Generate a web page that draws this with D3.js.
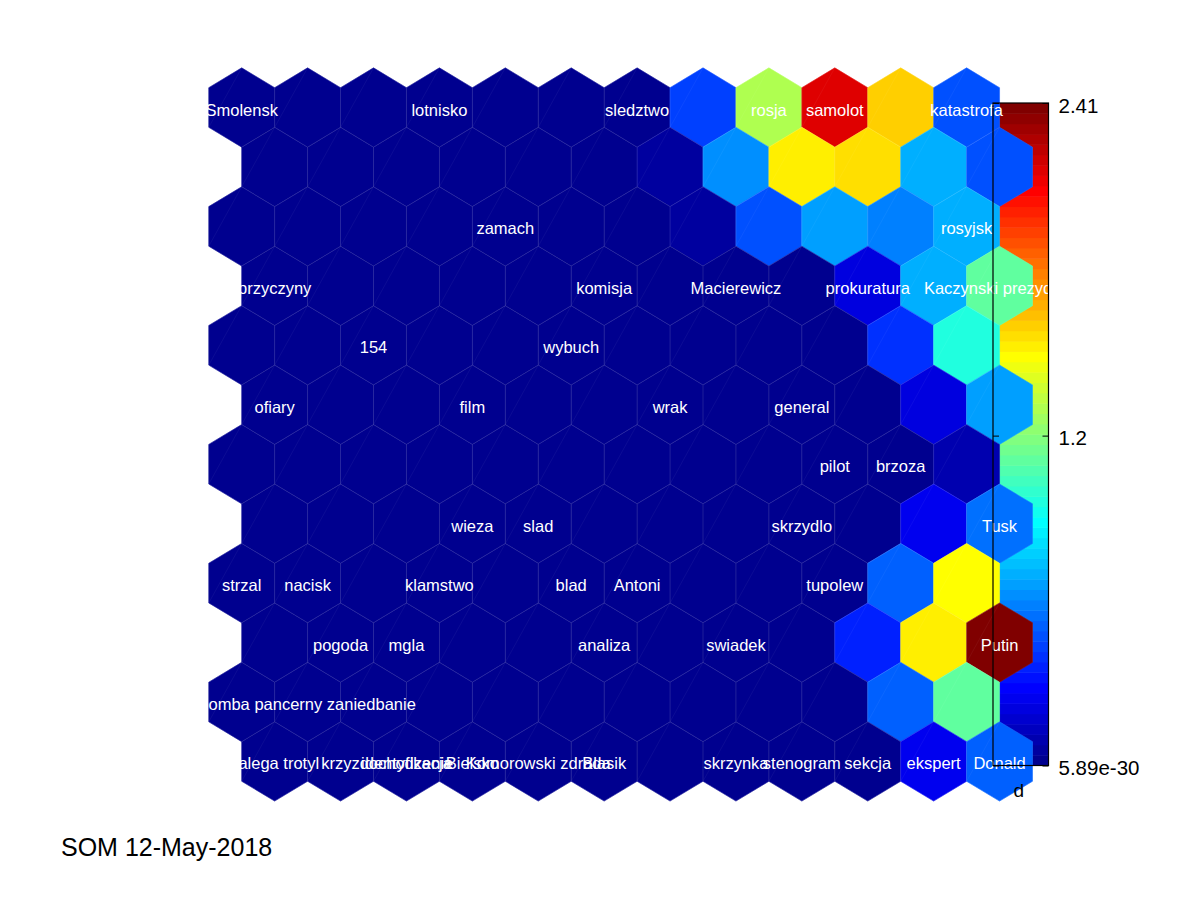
<!DOCTYPE html>
<html>
<head>
<meta charset="utf-8">
<script src="https://cdn.jsdelivr.net/npm/d3@7"></script>
<style>
  html, body { margin: 0; padding: 0; background: #fff; }
  svg { display: block; }
  text { font-family: "Liberation Sans", Arial, Helvetica, sans-serif; }
</style>
</head>
<body>
<svg id="chart" width="1200" height="900"></svg>
<script>
// ---- DATA ----
// Distance values ("d") for the 12 x 12 hexagonal SOM grid (rows top to bottom, columns left to right)
const dValues = [
  [0.01, 0.00, 0.01, 0.00, 0.01, 0.00, 0.01, 0.43, 1.30, 2.17, 1.60, 0.47],
  [0.00, 0.01, 0.00, 0.01, 0.00, 0.01, 0.06, 0.62, 1.52, 1.56, 0.70, 0.47],
  [0.01, 0.00, 0.01, 0.00, 0.01, 0.00, 0.02, 0.07, 0.47, 0.66, 0.58, 0.70],
  [0.00, 0.01, 0.00, 0.01, 0.00, 0.01, 0.00, 0.01, 0.02, 0.21, 0.70, 1.11],
  [0.01, 0.00, 0.01, 0.00, 0.01, 0.00, 0.01, 0.00, 0.01, 0.02, 0.40, 0.96],
  [0.00, 0.01, 0.00, 0.01, 0.00, 0.01, 0.00, 0.01, 0.00, 0.01, 0.21, 0.66],
  [0.01, 0.00, 0.01, 0.00, 0.01, 0.00, 0.01, 0.00, 0.01, 0.00, 0.02, 0.09],
  [0.00, 0.01, 0.00, 0.01, 0.00, 0.01, 0.00, 0.01, 0.00, 0.01, 0.24, 0.55],
  [0.01, 0.00, 0.01, 0.00, 0.01, 0.00, 0.01, 0.00, 0.01, 0.02, 0.51, 1.49],
  [0.00, 0.01, 0.00, 0.01, 0.00, 0.01, 0.00, 0.01, 0.00, 0.36, 1.52, 2.41],
  [0.01, 0.00, 0.01, 0.00, 0.01, 0.00, 0.01, 0.00, 0.01, 0.01, 0.51, 1.11],
  [0.00, 0.01, 0.00, 0.01, 0.00, 0.01, 0.00, 0.01, 0.00, 0.01, 0.24, 0.51]
];

// Unit labels: [row, column, text] (1-based)
const unitLabels = [
  [1, 1, "Smolensk"], [1, 4, "lotnisko"], [1, 7, "sledztwo"], [1, 9, "rosja"],
  [1, 10, "samolot"], [1, 12, "katastrofa"],
  [3, 5, "zamach"], [3, 12, "rosyjsk"],
  [4, 1, "przyczyny"], [4, 6, "komisja"], [4, 8, "Macierewicz"], [4, 10, "prokuratura"],
  [4, 12, "Kaczynski prezydent"],
  [5, 3, "154"], [5, 6, "wybuch"],
  [6, 1, "ofiary"], [6, 4, "film"], [6, 7, "wrak"], [6, 9, "general"],
  [7, 10, "pilot"], [7, 11, "brzoza"],
  [8, 4, "wieza"], [8, 5, "slad"], [8, 9, "skrzydlo"], [8, 12, "Tusk"],
  [9, 1, "strzal"], [9, 2, "nacisk"], [9, 4, "klamstwo"], [9, 6, "blad"],
  [9, 7, "Antoni"], [9, 10, "tupolew"],
  [10, 2, "pogoda"], [10, 3, "mgla"], [10, 6, "analiza"], [10, 8, "swiadek"], [10, 12, "Putin"],
  [11, 2, "bomba pancerny zaniedbanie"],
  [12, 1, "zalega trotyl"], [12, 2, "krzyz"], [12, 3, "dochodzenie"], [12, 3, "identyfikacja"],
  [12, 4, "Bielsko"], [12, 5, "Komorowski zdrada"], [12, 6, "Blasik"],
  [12, 8, "skrzynka"], [12, 9, "stenogram"], [12, 10, "sekcja"], [12, 11, "ekspert"],
  [12, 12, "Donald"]
];

const colorbarTickValues = [5.89e-30, 1.2, 2.41];
const colorbarTickLabels = ["5.89e-30", "1.2", "2.41"];
const colorbarTitle = "d";
const chartTitle = "SOM 12-May-2018";
const dMin = 0, dMax = 2.41;

// ---- MATLAB jet(64) colormap ----
function jet64() {
  const n = 16;
  const u = [];
  for (let i = 1; i <= n; i++) u.push(i / n);
  for (let i = 0; i < n - 1; i++) u.push(1);
  for (let i = n; i >= 1; i--) u.push(i / n);   // length 47
  const m = 64;
  const J = d3.range(m).map(() => [0, 0, 0]);
  const gStart = Math.ceil(n / 2) - ((m % 4) === 1 ? 1 : 0);
  for (let i = 0; i < u.length; i++) {
    const g = gStart + 1 + i, r = g + n, b = g - n;
    if (g >= 1 && g <= m) J[g - 1][1] = u[i];
    if (r >= 1 && r <= m) J[r - 1][0] = u[i];
    if (b >= 1 && b <= m) J[b - 1][2] = u[i];
  }
  return J.map(c => d3.rgb(c[0] * 255, c[1] * 255, c[2] * 255).formatHex());
}
const jet = jet64();
const colorOf = v => {
  const k = Math.min(63, Math.max(0, Math.floor((v - dMin) / (dMax - dMin) * 64)));
  return jet[k];
};

// ---- SCALES ----
const svg = d3.select("#chart");
const nRows = dValues.length, nCols = dValues[0].length;
const xs = d3.scaleLinear().domain([0, nCols - 1]).range([241.7, 241.7 + 11 * 65.9]);
const ys = d3.scaleLinear().domain([0, nRows - 1]).range([107.5, 761.45]);
const halfW = (xs(1) - xs(0)) / 2;
const bV = (ys(1) - ys(0)) * 2 / 3;
const aV = bV / 2;
const cx = (r, c) => xs(c + (r % 2 === 1 ? 0.5 : 0));
const cy = r => ys(r);

// colorbar scale
const cbLeft = 993, cbRight = 1048.5;
const cb = d3.scaleLinear().domain([dMin, dMax]).range([765.5, 103]);

// ---- COLORBAR IMAGE (drawn beneath the map) ----
const cbG = svg.append("g");
cbG.selectAll("rect").data(jet).join("rect")
  .attr("x", cbLeft)
  .attr("width", cbRight - cbLeft)
  .attr("y", (d, i) => cb(dMin + (i + 1) * (dMax - dMin) / 64))
  .attr("height", (d, i) => cb(dMin + i * (dMax - dMin) / 64) - cb(dMin + (i + 1) * (dMax - dMin) / 64) + 0.5)
  .attr("fill", d => d);

// ---- HEXAGONS ----
const cells = [];
dValues.forEach((row, r) => row.forEach((v, c) => cells.push({ r, c, v })));
const hexPath = (x, y) => {
  const p = d3.path();
  p.moveTo(x, y - bV);
  p.lineTo(x + halfW, y - aV);
  p.lineTo(x + halfW, y + aV);
  p.lineTo(x, y + bV);
  p.lineTo(x - halfW, y + aV);
  p.lineTo(x - halfW, y - aV);
  p.closePath();
  return p.toString();
};
const mapG = svg.append("g");
mapG.selectAll("path.hex").data(cells).join("path")
  .attr("class", "hex")
  .attr("d", d => hexPath(cx(d.r, d.c), cy(d.r)))
  .attr("fill", d => colorOf(d.v))
  .attr("stroke", d => colorOf(d.v))
  .attr("stroke-width", 0.6);

// faint rendering seams (edges and triangulation diagonals)
mapG.selectAll("path.seam").data(cells).join("path")
  .attr("class", "seam")
  .attr("d", d => hexPath(cx(d.r, d.c), cy(d.r)))
  .attr("fill", "none")
  .attr("stroke", "#ffffff")
  .attr("stroke-opacity", 0.09)
  .attr("stroke-width", 0.7);
mapG.selectAll("line.diag").data(cells).join("line")
  .attr("class", "diag")
  .attr("x1", d => cx(d.r, d.c) - halfW).attr("y1", d => cy(d.r) + aV)
  .attr("x2", d => cx(d.r, d.c)).attr("y2", d => cy(d.r) - bV)
  .attr("stroke", "#ffffff")
  .attr("stroke-opacity", 0.07)
  .attr("stroke-width", 0.7);

// ---- LABELS ----
svg.append("g").selectAll("text").data(unitLabels).join("text")
  .attr("x", d => cx(d[0] - 1, d[1] - 1))
  .attr("y", d => cy(d[0] - 1) + 8)
  .attr("text-anchor", "middle")
  .attr("font-size", "16.5px")
  .attr("fill", "#ffffff")
  .text(d => d[2]);

// ---- COLORBAR FRAME AND AXES (on top) ----
const axisR = d3.axisRight(cb)
  .tickValues(colorbarTickValues)
  .tickFormat((d, i) => colorbarTickLabels[i])
  .tickSizeInner(-6).tickSizeOuter(0).tickPadding(10);
const gR = svg.append("g").attr("transform", `translate(${cbRight},0)`).call(axisR);
gR.select(".domain").remove();
gR.selectAll("line").attr("stroke", "#000").attr("stroke-width", 1);
gR.selectAll("text").attr("font-size", "20.5px").attr("fill", "#000")
  .attr("font-family", "'Liberation Sans', Arial, sans-serif").attr("dy", "0.45em");

const axisL = d3.axisLeft(cb).tickValues(colorbarTickValues).tickFormat("")
  .tickSizeInner(-6).tickSizeOuter(0);
const gL = svg.append("g").attr("transform", `translate(${cbLeft},0)`).call(axisL);
gL.select(".domain").remove();
gL.selectAll("line").attr("stroke", "#000").attr("stroke-width", 1);

svg.append("rect")
  .attr("x", cbLeft).attr("y", cb(dMax))
  .attr("width", cbRight - cbLeft).attr("height", cb(dMin) - cb(dMax))
  .attr("fill", "none").attr("stroke", "#000").attr("stroke-width", 1.2);

svg.append("text")
  .attr("x", (cbLeft + cbRight) / 2 - 2).attr("y", 797)
  .attr("text-anchor", "middle").attr("font-size", "19px").attr("fill", "#000")
  .text(colorbarTitle);

// ---- TITLE ----
svg.append("text")
  .attr("x", 61).attr("y", 856)
  .attr("font-size", "25px").attr("fill", "#000")
  .text(chartTitle);
</script>
</body>
</html>
